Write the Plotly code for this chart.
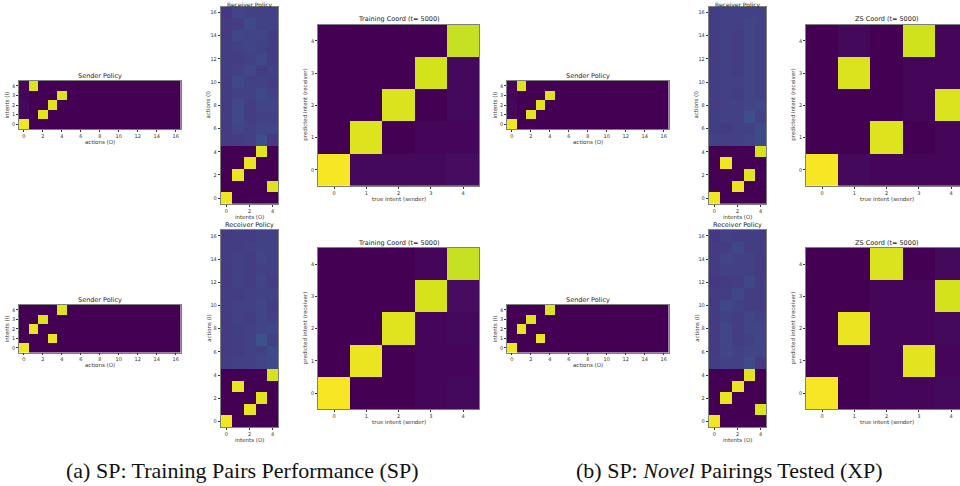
import plotly.graph_objects as go

# ---------------- data ----------------
intents = list(range(5))
sender_xticks = [0, 2, 4, 6, 8, 10, 12, 14, 16]
receiver_xticks = [0, 2, 4]
receiver_yticks = [0, 2, 4, 6, 8, 10, 12, 14, 16]
coord_ticks = [0, 1, 2, 3, 4]

# Sender policies: rows = intents 0..4, cols = actions 0..16
sender_a = [
    [0.98, 0, 0, 0, 0, 0, 0, 0, 0, 0, 0, 0, 0, 0, 0, 0, 0],
    [0.02, 0, 0.96, 0, 0, 0, 0, 0, 0, 0, 0, 0, 0, 0, 0, 0, 0],
    [0.02, 0, 0, 0.96, 0, 0, 0, 0, 0, 0, 0, 0, 0, 0, 0, 0, 0],
    [0.01, 0, 0, 0, 0.95, 0, 0, 0, 0, 0, 0, 0, 0, 0, 0, 0, 0],
    [0.01, 0.95, 0, 0, 0, 0, 0, 0, 0, 0, 0, 0, 0, 0, 0, 0, 0],
]
sender_b = [
    [0.98, 0, 0, 0, 0, 0, 0, 0, 0, 0, 0, 0, 0, 0, 0, 0, 0],
    [0.0, 0, 0, 0.97, 0, 0, 0, 0, 0, 0, 0, 0, 0, 0, 0, 0, 0],
    [0.0, 0.97, 0, 0, 0, 0, 0, 0, 0, 0, 0, 0, 0, 0, 0, 0, 0],
    [0.0, 0, 0.95, 0, 0, 0, 0, 0, 0, 0, 0, 0, 0, 0, 0, 0, 0],
    [0.0, 0, 0, 0, 0.95, 0, 0, 0, 0, 0, 0, 0, 0, 0, 0, 0, 0],
]

# Receiver policies: rows = actions 0..16, cols = intents 0..4
receiver_a = [
    [0.98, 0.0, 0.0, 0.0, 0.0],
    [0.0, 0.0, 0.0, 0.0, 0.95],
    [0.0, 0.97, 0.0, 0.0, 0.0],
    [0.0, 0.0, 0.97, 0.0, 0.0],
    [0.0, 0.0, 0.0, 0.96, 0.0],
    [0.17, 0.18, 0.19, 0.24, 0.17],
    [0.17, 0.20, 0.19, 0.20, 0.21],
    [0.17, 0.22, 0.18, 0.19, 0.19],
    [0.17, 0.22, 0.18, 0.20, 0.20],
    [0.17, 0.19, 0.19, 0.22, 0.19],
    [0.17, 0.22, 0.19, 0.19, 0.18],
    [0.18, 0.19, 0.21, 0.18, 0.19],
    [0.18, 0.18, 0.19, 0.22, 0.18],
    [0.18, 0.19, 0.20, 0.19, 0.18],
    [0.17, 0.21, 0.20, 0.20, 0.17],
    [0.17, 0.18, 0.22, 0.19, 0.19],
    [0.16, 0.20, 0.19, 0.19, 0.19],
]
receiver_b = [
    [0.98, 0.0, 0.0, 0.0, 0.0],
    [0.0, 0.0, 0.97, 0.0, 0.0],
    [0.0, 0.0, 0.0, 0.96, 0.0],
    [0.0, 0.97, 0.0, 0.0, 0.0],
    [0.0, 0.0, 0.0, 0.0, 0.94],
    [0.18, 0.19, 0.19, 0.20, 0.22],
    [0.17, 0.18, 0.19, 0.19, 0.23],
    [0.17, 0.18, 0.19, 0.25, 0.19],
    [0.17, 0.18, 0.19, 0.20, 0.21],
    [0.17, 0.19, 0.18, 0.20, 0.19],
    [0.18, 0.19, 0.19, 0.20, 0.18],
    [0.18, 0.18, 0.19, 0.19, 0.19],
    [0.17, 0.19, 0.18, 0.20, 0.18],
    [0.17, 0.19, 0.18, 0.19, 0.19],
    [0.18, 0.19, 0.18, 0.20, 0.19],
    [0.18, 0.18, 0.19, 0.19, 0.19],
    [0.17, 0.18, 0.18, 0.19, 0.19],
]
receiver_c = [
    [0.98, 0.0, 0.0, 0.0, 0.0],
    [0.0, 0.0, 0.97, 0.0, 0.0],
    [0.0, 0.0, 0.0, 0.96, 0.0],
    [0.0, 0.98, 0.0, 0.0, 0.0],
    [0.0, 0.0, 0.0, 0.0, 0.94],
    [0.19, 0.19, 0.19, 0.20, 0.23],
    [0.18, 0.17, 0.19, 0.19, 0.23],
    [0.18, 0.19, 0.19, 0.24, 0.19],
    [0.18, 0.19, 0.19, 0.20, 0.21],
    [0.18, 0.19, 0.18, 0.20, 0.19],
    [0.18, 0.19, 0.19, 0.20, 0.19],
    [0.18, 0.19, 0.18, 0.20, 0.19],
    [0.18, 0.19, 0.18, 0.20, 0.19],
    [0.18, 0.19, 0.18, 0.20, 0.19],
    [0.18, 0.19, 0.18, 0.20, 0.19],
    [0.18, 0.19, 0.19, 0.20, 0.19],
    [0.18, 0.19, 0.19, 0.19, 0.19],
]
receiver_d = [
    [0.98, 0.0, 0.0, 0.0, 0.0],
    [0.0, 0.0, 0.0, 0.0, 0.95],
    [0.0, 0.97, 0.0, 0.0, 0.0],
    [0.0, 0.0, 0.97, 0.0, 0.0],
    [0.0, 0.0, 0.0, 0.96, 0.0],
    [0.18, 0.19, 0.19, 0.23, 0.17],
    [0.17, 0.20, 0.19, 0.20, 0.20],
    [0.17, 0.21, 0.18, 0.19, 0.20],
    [0.17, 0.21, 0.18, 0.20, 0.20],
    [0.17, 0.19, 0.18, 0.20, 0.19],
    [0.17, 0.21, 0.19, 0.18, 0.18],
    [0.17, 0.18, 0.21, 0.18, 0.18],
    [0.16, 0.17, 0.18, 0.21, 0.18],
    [0.17, 0.19, 0.19, 0.19, 0.17],
    [0.17, 0.20, 0.19, 0.19, 0.17],
    [0.17, 0.18, 0.21, 0.18, 0.18],
    [0.16, 0.19, 0.18, 0.18, 0.18],
]

# Coordination matrices: rows = predicted intent (receiver), cols = true intent (sender)
coord_a_top = [
    [0.99, 0.02, 0.02, 0.02, 0.03],
    [0.00, 0.95, 0.00, 0.01, 0.01],
    [0.00, 0.00, 0.945, 0.00, 0.02],
    [0.00, 0.00, 0.00, 0.935, 0.02],
    [0.00, 0.00, 0.00, 0.00, 0.915],
]
coord_a_bot = [
    [0.99, 0.00, 0.00, 0.01, 0.02],
    [0.00, 0.97, 0.00, 0.01, 0.01],
    [0.00, 0.00, 0.955, 0.01, 0.02],
    [0.00, 0.00, 0.00, 0.94, 0.03],
    [0.00, 0.00, 0.00, 0.01, 0.915],
]
coord_b_top = [
    [0.99, 0.02, 0.01, 0.01, 0.01],
    [0.00, 0.00, 0.95, 0.00, 0.01],
    [0.00, 0.00, 0.00, 0.01, 0.945],
    [0.00, 0.945, 0.00, 0.01, 0.01],
    [0.00, 0.02, 0.00, 0.93, 0.01],
]
coord_b_bot = [
    [0.99, 0.00, 0.01, 0.01, 0.02],
    [0.00, 0.00, 0.01, 0.96, 0.01],
    [0.00, 0.97, 0.01, 0.01, 0.02],
    [0.00, 0.00, 0.01, 0.01, 0.935],
    [0.00, 0.00, 0.945, 0.00, 0.02],
]

titles = {
    "sender": "Sender Policy",
    "receiver": "Receiver Policy",
    "train": "Training Coord (t= 5000)",
    "zs": "ZS Coord (t= 5000)",
}
axis_labels = {
    "sender": ("actions (O)", "intents (I)"),
    "receiver": ("intents (O)", "actions (I)"),
    "train": ("true intent (sender)", "predicted intent (receiver)"),
    "zs": ("true intent (sender)", "predicted intent (receiver)"),
}
captions = ["(a) SP: Training Pairs Performance (SP)",
            "(b) SP: <i>Novel</i> Pairings Tested (XP)"]

# matplotlib-like viridis colour stops (style)
VIRIDIS = ["#440154", "#481a6c", "#472f7d", "#414487", "#39568c", "#31688e",
           "#2a788e", "#23888e", "#1f988b", "#22a884", "#35b779", "#54c568",
           "#7ad151", "#a5db36", "#d2e21b", "#fde725"]
CSCALE = [[k / (len(VIRIDIS) - 1), c] for k, c in enumerate(VIRIDIS)]

# ---------------- layout (pixel boxes) ----------------
W, H = 960, 486
SND_X = [(19, 180.5), (507, 668.5)]
SND_Y = [(81, 129), (305, 352.5)]
REC_X = [(220.7, 278.3), (708.7, 766.3)]
REC_Y = [(6.7, 204), (230, 427.3)]
CRD_X = [(318, 479.3), (806, 967.3)]
CRD_Y = [(24.7, 186), (248, 409.3)]

panels = [
    ("sender", sender_a, SND_X[0], SND_Y[0]),
    ("receiver", receiver_a, REC_X[0], REC_Y[0]),
    ("train", coord_a_top, CRD_X[0], CRD_Y[0]),
    ("sender", sender_b, SND_X[0], SND_Y[1]),
    ("receiver", receiver_b, REC_X[0], REC_Y[1]),
    ("train", coord_a_bot, CRD_X[0], CRD_Y[1]),
    ("sender", sender_a, SND_X[1], SND_Y[0]),
    ("receiver", receiver_c, REC_X[1], REC_Y[0]),
    ("zs", coord_b_top, CRD_X[1], CRD_Y[0]),
    ("sender", sender_b, SND_X[1], SND_Y[1]),
    ("receiver", receiver_d, REC_X[1], REC_Y[1]),
    ("zs", coord_b_bot, CRD_X[1], CRD_Y[1]),
]

fig = go.Figure()
TICKFONT = dict(family="DejaVu Sans", size=5, color="#333333")
LABELFONT = dict(family="DejaVu Sans", size=5.5, color="#333333")
TITLEFONT = dict(family="DejaVu Sans", size=6.5, color="#222222")
annotations = []

for i, (kind, z, (x0, x1), (y0, y1)) in enumerate(panels):
    idx = "" if i == 0 else str(i + 1)
    nrows, ncols = len(z), len(z[0])
    fig.add_trace(go.Heatmap(
        z=z, x=list(range(ncols)), y=list(range(nrows)), colorscale=CSCALE,
        zmin=0, zmax=1, showscale=False, xaxis="x" + idx, yaxis="y" + idx,
        hoverinfo="skip"))

    xr_hi = ncols - 0.5
    dx1 = x1
    if x1 > W:  # panel runs past the right edge: clip, keep cell size
        xr_hi = -0.5 + ncols * (W - x0) / (x1 - x0)
        dx1 = W
    if kind == "sender":
        xt, yt = sender_xticks, intents
    elif kind == "receiver":
        xt, yt = receiver_xticks, receiver_yticks
    else:
        xt, yt = coord_ticks, coord_ticks
    xl, yl = axis_labels[kind]

    ax = dict(showgrid=False, zeroline=False, showline=True, mirror=True,
              linecolor="#808080", linewidth=0.8, ticks="outside", ticklen=2,
              tickwidth=0.6, tickcolor="#333333", tickfont=TICKFONT,
              fixedrange=True)
    fig.layout["xaxis" + idx] = dict(
        ax, domain=[x0 / W, dx1 / W], range=[-0.5, xr_hi], anchor="y" + idx,
        tickmode="array", tickvals=xt)
    fig.layout["yaxis" + idx] = dict(
        ax, domain=[1 - y1 / H, 1 - y0 / H], range=[-0.5, nrows - 0.5],
        anchor="x" + idx, tickmode="array", tickvals=yt)

    # panel title
    if y0 < 10:
        annotations.append(dict(
            text=titles[kind], x=(x0 + x1) / 2 / W, y=1.0, xref="paper",
            yref="paper", xanchor="center", yanchor="top", borderpad=0,
            showarrow=False, font=dict(TITLEFONT, size=6)))
    else:
        annotations.append(dict(
            text=titles[kind], x=(x0 + x1) / 2 / W, y=1 - (y0 - 0.5) / H,
            xref="paper", yref="paper", xanchor="center", yanchor="bottom",
            borderpad=0, showarrow=False, font=TITLEFONT))
    # axis labels
    annotations.append(dict(
        text=xl, x=(x0 + x1) / 2 / W, y=1 - (y1 + 12.5) / H, xref="paper",
        yref="paper", xanchor="center", yanchor="middle", borderpad=0,
        showarrow=False, font=LABELFONT))
    annotations.append(dict(
        text=yl, x=(x0 - 12.5) / W, y=1 - (y0 + y1) / 2 / H, xref="paper",
        yref="paper", xanchor="center", yanchor="middle", textangle=-90,
        borderpad=0, showarrow=False, font=LABELFONT))

CAPFONT = dict(family="Liberation Serif", size=22, color="#111111")
annotations.append(dict(text=captions[0], x=242 / W, y=1 - 470 / H, xref="paper",
                        yref="paper", xanchor="center", yanchor="middle",
                        showarrow=False, borderpad=0, font=CAPFONT))
annotations.append(dict(text=captions[1], x=729 / W, y=1 - 470 / H, xref="paper",
                        yref="paper", xanchor="center", yanchor="middle",
                        showarrow=False, borderpad=0, font=CAPFONT))

fig.update_layout(width=W, height=H, margin=dict(l=0, r=0, t=0, b=0),
                  paper_bgcolor="white", plot_bgcolor="white",
                  annotations=annotations, showlegend=False)
fig.write_html("out.html", config={"displayModeBar": False},
               post_script="document.body.style.margin='0px';")
